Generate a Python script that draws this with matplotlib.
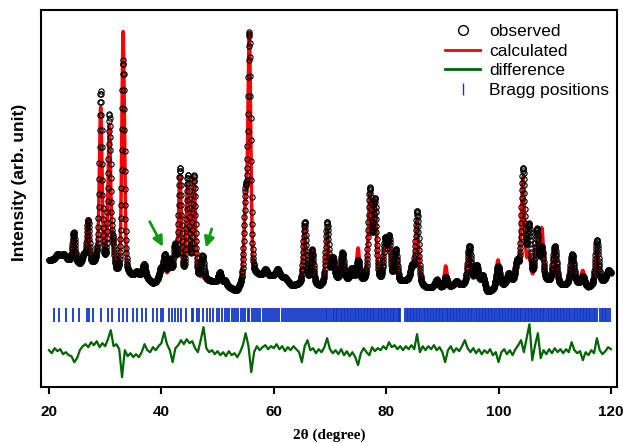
import numpy as np
import matplotlib
matplotlib.use("Agg")
import matplotlib.pyplot as plt
from matplotlib.lines import Line2D

# background knots (2theta, level)
bg_tt = [20, 23, 25.5, 28, 31, 32, 34, 37, 38.5, 40, 42, 44, 46.5, 48, 50, 52, 53.4,
         55, 57, 60, 62, 63.2, 66, 68.2, 71, 76, 78.7, 82.3, 84, 87, 90, 92, 96, 98,
         101, 103, 106, 108.8, 111.3, 114, 116, 119, 120]
bg_level = [127, 127, 122, 121, 117, 111, 110, 110, 103, 106, 106, 106, 107, 106, 104, 99, 94,
            104, 110, 111, 109, 101, 103, 100, 107, 105, 104, 104, 106, 99, 99, 101, 102, 94,
            101, 104, 104, 105, 101, 103, 99, 106, 112]

# reflections: position, calculated height, observed height, fwhm
peak_pos = [21.6, 22.6, 24.4, 26.2, 26.95, 28.5, 29.2, 30.75, 31.4, 33.2, 35.6, 36.9,
            39.9, 40.6, 41.5, 42.4, 43.3, 44.7, 45.8, 47.3, 50.4, 51.3, 54.95, 55.65,
            58.5, 60.7, 65.5, 66.8, 69.5, 70.5, 72.2, 73.9, 75.0, 77.1, 78.0, 79.8, 80.5,
            81.7, 84.6, 85.5, 89.0, 90.6, 92.5, 94.8, 96.1, 97.2, 99.9, 101.8, 103.3,
            104.35, 105.4, 106.8, 107.7, 110.0, 113.1, 115.0, 117.5, 119.5]
calc_height = [5, 4, 30, 9, 45, 5, 158, 142, 18, 244, 4, 12,
               7, 12, 15, 32, 103, 96, 100, 2, 11, 5, 68, 244,
               6, 7, 58, 34, 52, 22, 27, 12, 32, 84, 80, 40, 41,
               30, 15, 65, 7, 21, 4, 33, 19, 13, 28, 10, 17,
               104, 26, 36, 52, 37, 26, 15, 34, 6]
obs_height = [6, 5, 30, 9, 44, 5, 174, 152, 21, 215, 4, 12,
              11, 24, 19, 32, 110, 102, 102, 23, 11, 5, 78, 244,
              6, 7, 62, 34, 61, 22, 27, 12, 20, 91, 80, 40, 43,
              32, 15, 73, 8, 10, 4, 39, 19, 13, 22, 10, 19,
              112, 54, 51, 32, 37, 30, 9, 44, 7]
peak_fwhm = [0.9, 0.8, 0.55, 0.6, 0.55, 0.5, 0.55, 0.55, 0.5, 0.55, 0.7, 0.6,
             0.7, 0.6, 0.6, 0.55, 0.58, 0.58, 0.58, 0.6, 0.6, 0.6, 0.6, 0.6,
             0.7, 0.7, 0.62, 0.62, 0.62, 0.62, 0.65, 0.65, 0.6, 0.65, 0.65, 0.65, 0.65,
             0.65, 0.65, 0.65, 0.75, 0.6, 0.75, 0.75, 0.75, 0.75, 0.75, 0.75, 0.7,
             0.7, 0.7, 0.7, 0.65, 0.75, 0.75, 0.75, 0.7, 0.75]

# difference curve, every 0.5 deg from 20 to 120
diff_vals = [37, 34, 39, 36, 38, 33, 35, 32, 31, 25, 29, 37, 41, 43, 40, 45, 42, 46, 40, 44,
             41, 48, 57, 41, 43, 38, 10, 37, 31, 34, 30, 33, 30, 35, 43, 37, 35, 40, 37, 41,
             44, 55, 43, 37, 25, 39, 42, 47, 43, 48, 44, 46, 39, 35, 47, 60, 39, 35, 37, 33,
             36, 32, 35, 31, 36, 32, 34, 30, 35, 42, 54, 41, 15, 35, 41, 37, 40, 42, 38, 41,
             39, 43, 38, 41, 36, 40, 37, 41, 38, 35, 25, 41, 47, 37, 39, 34, 38, 35, 40, 49,
             38, 34, 37, 33, 38, 32, 36, 31, 35, 30, 22, 34, 39, 35, 32, 40, 36, 39, 37, 41,
             38, 45, 40, 42, 38, 41, 37, 41, 38, 42, 38, 53, 35, 41, 37, 41, 38, 42, 37, 40,
             35, 25, 37, 41, 35, 39, 36, 41, 47, 39, 35, 39, 34, 38, 33, 37, 34, 38, 32, 35,
             25, 35, 38, 33, 37, 32, 38, 42, 47, 35, 49, 63, 27, 42, 54, 29, 37, 33, 38, 34,
             39, 35, 38, 34, 38, 35, 45, 37, 34, 36, 27, 35, 32, 37, 34, 49, 37, 33, 36, 40,
             38]

bragg_pos = [20.89, 21.78, 23.02, 24.33, 25.40, 26.70, 27.18, 27.89, 29.25, 30.44, 31.15,
             32.46, 33.22, 33.93, 34.88, 35.71, 36.49, 37.26, 38.56, 39.27, 39.87, 40.34,
             41.41, 41.94, 42.42, 43.01, 43.43, 44.38, 45.39, 45.68, 46.28, 46.75, 47.46,
             48.06, 48.65, 49.24,
             49.82, 50.30, 50.71, 51.25, 51.62, 52.10, 52.55, 52.88, 53.30, 53.71, 54.15,
             54.52, 54.90, 55.33, 55.68, 56.10, 56.47, 56.85, 57.21, 57.64, 58.02, 58.36,
             58.80, 59.12, 59.55, 59.90, 60.27, 60.66, 61.02, 61.40, 61.75, 62.16, 62.50,
             62.88, 63.21, 63.60, 63.95, 64.33, 64.68, 65.02, 65.40, 65.71, 66.08, 66.45,
             66.79, 67.13, 67.50, 67.82, 68.18, 68.55, 68.87, 69.22, 69.56, 69.90,
             70.21, 70.48, 70.80, 71.05, 71.33, 71.62, 71.88, 72.17, 72.45, 72.70, 73.01,
             73.28, 73.55, 73.83, 74.10, 74.37, 74.66, 74.92,
             75.20, 75.46, 75.75, 76.02, 76.30, 76.55, 76.84, 77.10, 77.38, 77.65, 77.92,
             78.20, 78.47, 78.75, 79.01, 79.28, 79.56, 79.83,
             80.10, 80.37, 80.66, 80.92, 81.20, 81.46, 81.75, 82.02, 82.30, 82.52,
             83.38, 83.65, 83.92, 84.20, 84.47, 84.75,
             85.01, 85.28, 85.56, 85.83, 86.10, 86.37, 86.66, 86.92, 87.20, 87.46, 87.75,
             88.02, 88.30, 88.55, 88.84, 89.10, 89.38, 89.65,
             89.92, 90.20, 90.46, 90.75, 91.01, 91.28, 91.56, 91.82, 92.10, 92.37, 92.65,
             92.90, 93.18, 93.46, 93.73, 94.00, 94.27, 94.55, 94.82,
             95.10, 95.36, 95.65, 95.92, 96.18, 96.45, 96.73, 97.00, 97.27, 97.55, 97.82,
             98.10, 98.36, 98.64, 98.90, 99.18, 99.45, 99.72,
             100.00, 100.27, 100.55, 100.82, 101.08, 101.36, 101.64, 101.90, 102.18,
             102.45, 102.72, 103.00, 103.26, 103.54, 103.80, 104.08, 104.35, 104.62, 104.90,
             105.17, 105.44, 105.72, 106.00, 106.26, 106.54, 106.80, 107.08, 107.35,
             107.62, 107.90, 108.16, 108.44, 108.72, 109.00, 109.26, 109.54, 109.80,
             110.08, 110.35, 110.62, 110.90, 111.16, 111.44, 111.72, 112.00, 112.26,
             112.54, 112.80, 113.08, 113.35, 113.62, 113.90, 114.17, 114.44, 114.72,
             115.00, 115.26, 115.54, 115.80, 116.08, 116.35, 116.62, 116.90, 117.17,
             117.45, 118.10, 118.38, 118.65, 118.92, 119.20, 119.48, 119.75]


def profile(tt, heights):
    y = np.interp(tt, bg_tt, bg_level)
    for p, h, w in zip(peak_pos, heights, peak_fwhm):
        d = (tt - p) / w
        y = y + h * (0.35 / (1 + 4 * d**2) + 0.65 * np.exp(-4 * np.log(2) * d**2))
    return y


tt = np.arange(20, 120.001, 0.02)
tt_obs = np.arange(20, 120.001, 0.04)
calc = profile(tt, calc_height)
obs = profile(tt_obs, obs_height)
tt_diff = np.arange(20, 120.001, 0.5)

fig = plt.figure(figsize=(6.23, 4.43), dpi=100)
ax = fig.add_axes([0.0658, 0.126, 0.9245, 0.851])

ax.plot(tt, calc, color="red", lw=2.5, zorder=2)
ax.plot(tt_obs, obs, "o", ms=3.8, mfc="none", mec="black", mew=0.8, zorder=3)
ax.plot(tt_diff, diff_vals, color="#006400", lw=1.6, zorder=2)
ax.vlines(bragg_pos, 65, 79, color="#0f36c8", lw=1.3, zorder=2)

# green arrows pointing at the impurity bumps
ax.annotate("", xy=(40.5, 138), xytext=(37.7, 168),
            arrowprops=dict(arrowstyle="-|>", color="#119911", lw=2, mutation_scale=15))
ax.annotate("", xy=(47.8, 137), xytext=(49.1, 161),
            arrowprops=dict(arrowstyle="-|>", color="#119911", lw=2, mutation_scale=15))

ax.set_xlim(18.58, 121.07)
ax.set_ylim(0, 377)
ax.set_yticks([])
ax.set_xticks([20, 40, 60, 80, 100, 120])
for s in ax.spines.values():
    s.set_linewidth(1.5)
ax.tick_params(axis="x", direction="out", length=5, width=1.5, pad=8)
for lab in ax.get_xticklabels():
    lab.set_fontfamily("Liberation Sans")
    lab.set_fontweight("bold")
    lab.set_fontsize(11)

ax.set_xlabel("2θ (degree)", family="Liberation Serif", fontweight="bold", fontsize=11,
              labelpad=7)
ax.set_ylabel("Intensity (arb. unit)", family="Liberation Sans", fontweight="bold",
              fontsize=12.5)
ax.yaxis.set_label_coords(-0.0244, 0.544)

handles = [
    Line2D([], [], ls="none", marker="o", ms=7, mfc="none", mec="black", mew=1),
    Line2D([], [], color="red", lw=2),
    Line2D([], [], color="#006400", lw=2),
    Line2D([], [], ls="none", marker="|", ms=9, mec="#0f36c8", mew=1),
]
leg = ax.legend(handles, ["observed", "calculated", "difference", "Bragg positions"],
                loc="upper right", bbox_to_anchor=(1.007, 0.995), frameon=False,
                handlelength=2.0, handletextpad=0.5, labelspacing=0.25,
                borderaxespad=0.3, prop={"family": "Liberation Sans", "size": 12.5})

fig.savefig("out.png", dpi=100)
